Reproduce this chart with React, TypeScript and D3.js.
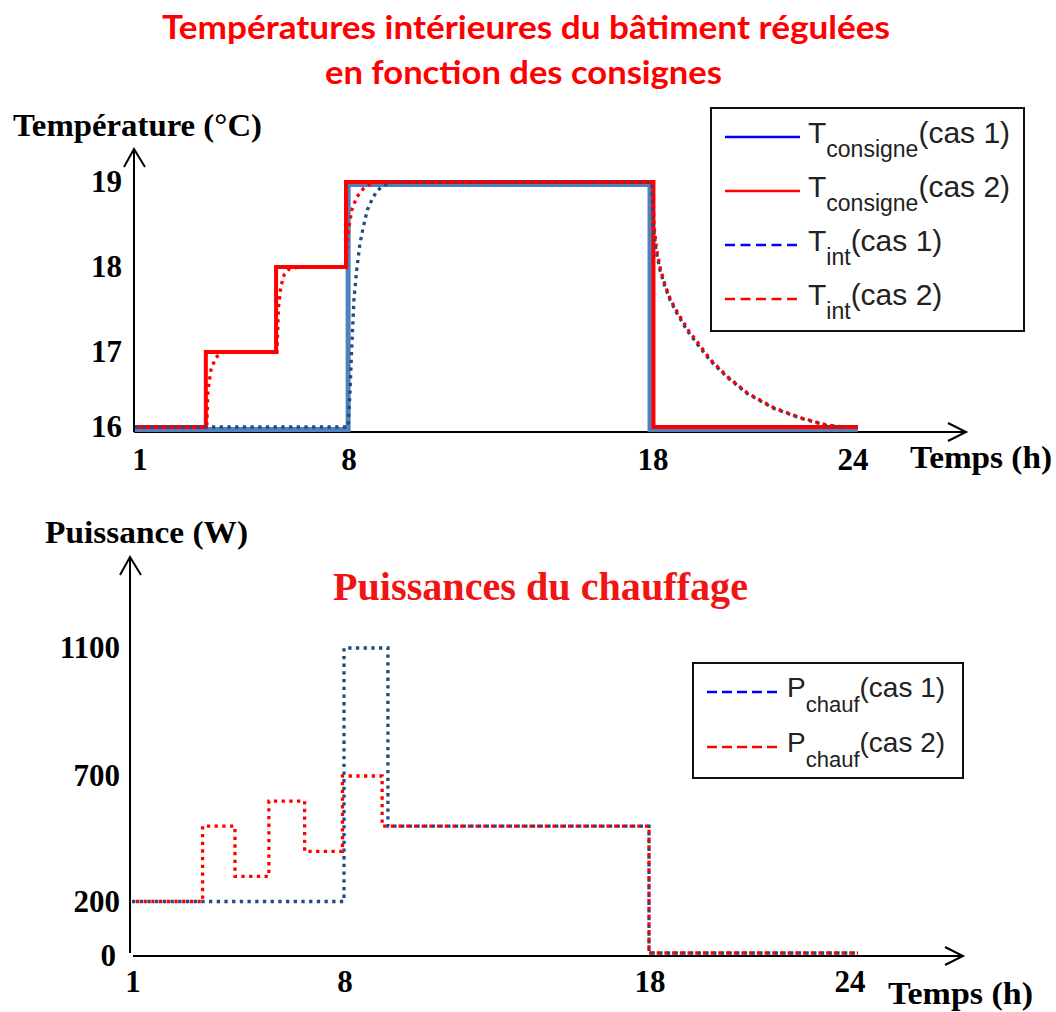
import React from 'react';
import * as d3 from 'd3';

// heures affichées sur les axes
const hourTicks = [1, 8, 18, 24];
const tempTicks = [16, 17, 18, 19];
const powerTicks = [0, 200, 700, 1100];

// consignes (paliers)
const consigne1Time = [1, 8.07, 18, 24];
const consigne1Value = [16, 19, 16, 16];
const consigne2Time = [1, 3.35, 5.68, 8, 18.1, 24];
const consigne2Value = [16, 17, 18, 19, 16, 16];

// températures intérieures
const tint1Time = [1, 8.07, 8.13, 8.19, 8.26, 8.35, 8.46, 8.57, 8.7, 8.85, 9.01, 9.23, 9.6,
  18.0, 18.05, 18.1, 18.17, 18.29, 18.43, 18.58, 18.77, 19.06, 19.35, 19.73, 20.21, 20.79, 21.56, 22.33, 23.1, 23.58];
const tint1Value = [16, 16, 16.45, 17.06, 17.61, 17.96, 18.28, 18.47, 18.67, 18.79, 18.89, 18.96, 19,
  19, 18.98, 18.47, 18.2, 17.96, 17.77, 17.61, 17.46, 17.26, 17.1, 16.89, 16.67, 16.45, 16.25, 16.12, 16.02, 16.0];
const tint2Time = [1, 3.38, 3.42, 3.52, 3.67, 3.86, 4.2, 5.71, 5.76, 5.84, 5.95, 6.13, 6.5,
  8.0, 8.04, 8.1, 8.19, 8.35, 8.57, 8.9, 18.02, 18.07, 18.12, 18.19, 18.31, 18.45, 18.6, 18.8,
  19.1, 19.4, 19.76, 20.24, 20.82, 21.6, 22.37, 23.14, 23.62];
const tint2Value = [16, 16, 16.49, 16.76, 16.92, 16.99, 17, 17, 17.53, 17.77, 17.91, 17.98, 18,
  18, 18.28, 18.47, 18.67, 18.82, 18.92, 19, 19, 18.98, 18.47, 18.2, 17.96, 17.77, 17.61, 17.46,
  17.26, 17.1, 16.89, 16.67, 16.45, 16.25, 16.12, 16.02, 16.0];

// puissances de chauffage
const power1Time = [1, 8, 9.44, 18, 24];
const power1Value = [200, 1100, 500, 0, 0];
const power2Time = [1, 3.33, 4.4, 5.52, 6.7, 7.95, 9.25, 18, 24];
const power2Value = [200, 500, 300, 600, 400, 700, 500, 0, 0];

const topLegend = [
  { main: 'T', sub: 'consigne', rest: '(cas 1)', color: '#0000ff', dashed: false },
  { main: 'T', sub: 'consigne', rest: '(cas 2)', color: '#ff0000', dashed: false },
  { main: 'T', sub: 'int', rest: '(cas 1)', color: '#0000ff', dashed: true },
  { main: 'T', sub: 'int', rest: '(cas 2)', color: '#ff0000', dashed: true }
];
const bottomLegend = [
  { main: 'P', sub: 'chauf', rest: '(cas 1)', color: '#0000ff', dashed: true },
  { main: 'P', sub: 'chauf', rest: '(cas 2)', color: '#ff0000', dashed: true }
];

const SERIF = '"Liberation Serif", "Times New Roman", serif';
const SANS = '"Liberation Sans", Arial, sans-serif';
const RED = '#ff0000';
const NAVY = '#23497f';
const STEEL = '#4f81bd';
const DOT = '3.3 4.4';

type Pt = [number, number];

const arrowUp = (x: number, y: number) => `M${x - 10},${y + 18}L${x},${y}L${x + 11},${y + 18}`;
const arrowRight = (x: number, y: number) => `M${x - 18},${y - 9}L${x},${y}L${x - 18},${y + 9}`;

const App: React.FC = () => {
  // échelles (graduations non uniformes du dessin original)
  const xTop = d3.scaleLinear().domain(hourTicks).range([135, 346, 650, 858]);
  const yTop = d3.scaleLinear().domain(tempTicks).range([427, 352, 267, 182]);
  const xBot = d3.scaleLinear().domain(hourTicks).range([132, 344, 649, 858]);
  const yBot = d3.scaleLinear().domain(powerTicks).range([953, 901.5, 776, 648]);

  const stepTop = d3.line<Pt>().x(d => xTop(d[0])).y(d => yTop(d[1])).curve(d3.curveStepAfter);
  const curveTop = d3.line<Pt>().x(d => xTop(d[0])).y(d => yTop(d[1]));
  const stepBot = d3.line<Pt>().x(d => xBot(d[0])).y(d => yBot(d[1])).curve(d3.curveStepAfter);

  const c1 = d3.zip(consigne1Time, consigne1Value) as Pt[];
  const c2 = d3.zip(consigne2Time, consigne2Value) as Pt[];
  const t1 = d3.zip(tint1Time, tint1Value) as Pt[];
  const t2 = d3.zip(tint2Time, tint2Value) as Pt[];
  const p1 = d3.zip(power1Time, power1Value) as Pt[];
  const p2 = d3.zip(power2Time, power2Value) as Pt[];

  return (
    <svg width={1056} height={1012} style={{ position: 'absolute', left: 0, top: 0, background: '#fff' }}>
      {/* titres */}
      <g fill={RED} fontFamily='Lato, "Open Sans", sans-serif' fontWeight={700} fontSize={33}>
        <text x={162} y={39} textLength={728} lengthAdjust="spacingAndGlyphs">Températures intérieures du bâtiment régulées</text>
        <text x={325} y={84} textLength={397} lengthAdjust="spacingAndGlyphs">en fonction des consignes</text>
      </g>

      {/* ---- graphe du haut ---- */}
      <g stroke="#000" strokeWidth={2} fill="none">
        <line x1={134} y1={432} x2={134} y2={150} />
        <path d={arrowUp(134, 149)} />
        <line x1={134} y1={432} x2={965} y2={432} />
        <path d={arrowRight(966, 432)} />
      </g>
      <g fontFamily={SERIF} fontWeight={700} fill="#000">
        <text x={13} y={136} fontSize={32} textLength={249} lengthAdjust="spacingAndGlyphs">Température (°C)</text>
        <text x={910} y={468} fontSize={32} textLength={142} lengthAdjust="spacingAndGlyphs">Temps (h)</text>
        {tempTicks.map(t => (
          <text key={t} x={122} y={yTop(t) + 10} fontSize={31} textAnchor="end">{t}</text>
        ))}
        {hourTicks.map(h => (
          <text key={h} x={xTop(h) + (h === 24 ? -5 : h === 1 ? 5 : 3)} y={470} fontSize={31} textAnchor="middle">{h}</text>
        ))}
      </g>
      <path d={stepTop(c1) ?? ''} transform="translate(0,2.5)" fill="none" stroke={STEEL} strokeWidth={5} />
      <path d={stepTop(c2) ?? ''} fill="none" stroke={RED} strokeWidth={4} />
      <path d={curveTop(t1) ?? ''} fill="none" stroke={NAVY} strokeWidth={3.3} strokeDasharray={DOT} />
      <path d={curveTop(t2) ?? ''} fill="none" stroke={RED} strokeWidth={3.3} strokeDasharray={DOT} strokeDashoffset={3.8} />

      <rect x={711} y={108} width={313} height={223} fill="#fff" stroke="#111" strokeWidth={2} />
      {topLegend.map((e, i) => {
        const ly = 137 + i * 54;
        return (
          <g key={i}>
            <line x1={725} x2={800} y1={ly} y2={ly} stroke={e.color} strokeWidth={2.7}
              strokeDasharray={e.dashed ? '10 5.5' : undefined} />
            <text x={808} y={ly + 6} fontFamily={SANS} fontSize={30} fill="#222">
              {e.main}
              <tspan fontSize={23} dy={14}>{e.sub}</tspan>
              <tspan dy={-14}>{e.rest}</tspan>
            </text>
          </g>
        );
      })}

      {/* ---- graphe du bas ---- */}
      <g stroke="#000" strokeWidth={2} fill="none">
        <line x1={130} y1={953} x2={130} y2={558} />
        <path d={arrowUp(130, 557)} />
        <line x1={133} y1={956} x2={962} y2={956} />
        <path d={arrowRight(963, 956)} />
      </g>
      <g fontFamily={SERIF} fontWeight={700} fill="#000">
        <text x={45} y={543} fontSize={32} textLength={203} lengthAdjust="spacingAndGlyphs">Puissance (W)</text>
        <text x={888} y={1004} fontSize={32} textLength={145} lengthAdjust="spacingAndGlyphs">Temps (h)</text>
        {powerTicks.map(p => (
          <text key={p} x={p === 0 ? 116 : 120} y={(p === 0 ? 956 : yBot(p)) + 10} fontSize={31} textAnchor="end">{p}</text>
        ))}
        {hourTicks.map(h => (
          <text key={h} x={xBot(h) + (h === 24 ? -8 : 1)} y={992} fontSize={31} textAnchor="middle">{h}</text>
        ))}
      </g>
      <text x={333} y={600} fontFamily={SERIF} fontWeight={700} fontSize={40} fill="#f01414"
        textLength={415} lengthAdjust="spacingAndGlyphs">
        Puissances du chauffage
      </text>
      <path d={stepBot(p1) ?? ''} fill="none" stroke={NAVY} strokeWidth={3.3} strokeDasharray={DOT} />
      <path d={stepBot(p2) ?? ''} fill="none" stroke={RED} strokeWidth={3.3} strokeDasharray={DOT} strokeDashoffset={3.8} />

      <rect x={693} y={663} width={270} height={115} fill="#fff" stroke="#111" strokeWidth={2} />
      {bottomLegend.map((e, i) => {
        const ly = 692 + i * 55;
        return (
          <g key={i}>
            <line x1={707} x2={777} y1={ly} y2={ly} stroke={e.color} strokeWidth={2.7}
              strokeDasharray={e.dashed ? '10 5' : undefined} />
            <text x={787} y={ly + 5} fontFamily={SANS} fontSize={28} fill="#222">
              {e.main}
              <tspan fontSize={22} dy={15}>{e.sub}</tspan>
              <tspan dy={-15}>{e.rest}</tspan>
            </text>
          </g>
        );
      })}
    </svg>
  );
};

export default App;
